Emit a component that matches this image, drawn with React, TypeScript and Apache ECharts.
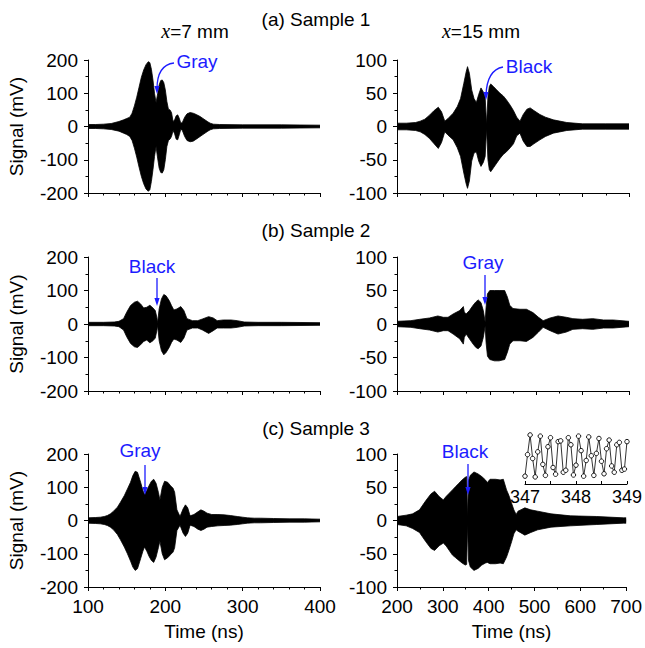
import React, { useEffect, useRef } from 'react';
import * as echarts from 'echarts';

const FONT = '"Liberation Sans", Arial, Helvetica, sans-serif';
const BLUE = '#1c1cff';

// ---- Sample 1, x = 7 mm (envelope of the signal, mV) ----
const A7_T = [100, 110, 120, 130, 140, 146, 150, 154, 157, 160, 163, 166, 169, 172, 175, 178, 180, 182, 184, 186, 188, 190, 192, 194, 196, 198, 200, 202, 204, 206, 208, 210, 212, 214, 216, 218, 220, 222, 225, 228, 232, 236, 240, 245, 250, 255, 258, 262, 270, 300, 350, 400];
const A7_UP = [6, 6, 7, 9, 15, 20, 24, 28, 40, 62, 88, 118, 148, 170, 186, 195, 192, 172, 140, 100, 72, 98, 125, 138, 140, 132, 110, 75, 52, 50, 42, 15, 20, 32, 35, 25, 10, 12, 28, 38, 42, 40, 36, 30, 22, 14, 10, 7, 6, 5, 5, 4];
const A7_LO = [-6, -6, -7, -9, -14, -20, -24, -30, -42, -65, -92, -122, -150, -172, -188, -195, -190, -165, -130, -90, -60, -95, -125, -138, -140, -130, -100, -60, -42, -38, -30, -12, -22, -38, -40, -25, -8, -12, -30, -42, -46, -44, -38, -30, -22, -14, -10, -7, -6, -5, -5, -4];

// ---- Sample 1, x = 15 mm ----
const A15_T = [200, 220, 240, 250, 260, 270, 280, 289, 296, 303, 310, 321, 330, 337, 344, 349, 352, 356, 361, 366, 371, 376, 381, 386, 390, 393, 396, 399, 402, 408, 415, 422, 429, 436, 444, 451, 458, 465, 472, 480, 487, 495, 508, 520, 537, 566, 600, 650, 700];
const A15_UP = [5, 5, 6, 8, 11, 17, 24, 29, 22, 8, 12, 20, 30, 42, 65, 82, 90, 80, 55, 42, 36, 48, 58, 52, 44, 3, 45, 60, 64, 60, 55, 50, 46, 40, 32, 24, 14, 8, 18, 26, 28, 24, 18, 14, 10, 6, 4, 4, 4];
const A15_LO = [-5, -5, -6, -8, -12, -18, -26, -33, -24, -8, -13, -20, -32, -45, -70, -86, -93, -82, -52, -40, -38, -52, -60, -54, -45, -3, -50, -65, -68, -62, -55, -48, -42, -38, -32, -26, -14, -10, -22, -30, -30, -26, -20, -15, -10, -6, -4, -4, -4];

// ---- Sample 2, x = 7 mm ----
const B7_T = [100, 120, 134, 140, 146, 150, 155, 160, 164, 168, 172, 176, 180, 184, 187, 189, 190, 192, 195, 198, 201, 205, 208, 211, 215, 220, 224, 228, 235, 242, 248, 256, 262, 267, 275, 285, 293, 302, 320, 350, 400];
const B7_UP = [5, 5, 6, 8, 16, 35, 55, 65, 68, 60, 48, 50, 56, 48, 40, 20, 4, 45, 75, 88, 84, 70, 55, 42, 45, 52, 40, 16, 10, 10, 15, 22, 18, 10, 12, 12, 10, 6, 5, 5, 4];
const B7_LO = [-5, -5, -6, -8, -18, -38, -58, -68, -70, -62, -52, -48, -56, -50, -42, -20, -4, -50, -80, -92, -85, -70, -55, -45, -48, -55, -42, -18, -12, -12, -18, -28, -20, -12, -12, -12, -10, -6, -5, -5, -4];

// ---- Sample 2, x = 15 mm ----
const B15_T = [200, 230, 249, 270, 288, 300, 310, 321, 335, 343, 345, 349, 356, 364, 370, 375, 381, 386, 390, 392, 395, 400, 410, 420, 432, 438, 443, 450, 465, 479, 493, 505, 515, 530, 547, 565, 579, 600, 622, 645, 666, 700];
const B15_UP = [4, 5, 7, 9, 12, 10, 10, 15, 20, 26, 18, 15, 20, 28, 33, 36, 32, 20, 3, 25, 45, 50, 50, 50, 50, 40, 28, 23, 22, 22, 17, 10, 5, 9, 12, 10, 8, 7, 8, 6, 6, 4];
const B15_LO = [-4, -5, -7, -9, -12, -10, -10, -15, -22, -30, -20, -15, -22, -30, -35, -37, -33, -20, -3, -28, -48, -53, -55, -55, -53, -42, -30, -25, -25, -26, -20, -12, -5, -10, -15, -12, -8, -7, -8, -6, -6, -4];

// ---- Sample 3, x = 7 mm ----
const C7_T = [100, 110, 116, 121, 125, 129, 133, 138, 142, 147, 151, 155, 158, 161, 164, 168, 171, 173, 176, 179, 182, 185, 188, 191, 193, 196, 199, 203, 207, 210, 212, 215, 219, 223, 226, 229, 232, 237, 242, 246, 250, 254, 260, 268, 276, 284, 293, 300, 306, 315, 323, 340, 360, 380, 400];
const C7_UP = [8, 9, 10, 12, 15, 20, 28, 40, 55, 75, 95, 115, 135, 148, 145, 115, 90, 78, 90, 105, 118, 124, 112, 85, 62, 100, 118, 115, 104, 97, 85, 32, 12, 35, 47, 38, 14, 18, 26, 32, 28, 22, 18, 18, 17, 15, 12, 10, 8, 7, 7, 6, 5, 5, 4];
const C7_LO = [-8, -9, -10, -12, -15, -20, -28, -42, -58, -80, -100, -122, -140, -150, -145, -115, -92, -80, -92, -108, -120, -126, -110, -82, -62, -100, -118, -112, -102, -95, -82, -30, -14, -38, -48, -38, -14, -18, -26, -30, -26, -20, -18, -16, -15, -14, -12, -10, -8, -7, -7, -6, -5, -5, -4];

// ---- Sample 3, x = 15 mm ----
const C15_T = [200, 220, 234, 249, 263, 274, 282, 292, 301, 307, 314, 321, 328, 335, 342, 349, 352, 354, 356, 360, 368, 377, 385, 393, 397, 403, 415, 425, 432, 439, 444, 450, 455, 460, 464, 479, 492, 507, 536, 579, 636, 694, 700];
const C15_UP = [6, 8, 10, 16, 30, 40, 44, 36, 31, 36, 41, 46, 51, 56, 61, 65, 66, 4, 60, 68, 73, 70, 66, 61, 57, 62, 62, 61, 62, 46, 38, 26, 16, 9, 14, 19, 16, 14, 10, 7, 6, 4, 4];
const C15_LO = [-6, -8, -12, -18, -32, -42, -45, -38, -34, -38, -45, -52, -56, -60, -64, -67, -66, -4, -60, -70, -75, -72, -67, -64, -63, -65, -65, -64, -65, -55, -45, -32, -20, -14, -16, -22, -18, -14, -10, -8, -6, -4, -4];

// ---- Inset: sampled waveform 347-349 ns ----
const INSET_T = [347.0, 347.05, 347.1, 347.15, 347.2, 347.25, 347.3, 347.35, 347.4, 347.45, 347.5, 347.55, 347.6, 347.65, 347.7, 347.75, 347.8, 347.85, 347.9, 347.95, 348.0, 348.05, 348.1, 348.15, 348.2, 348.25, 348.3, 348.35, 348.4, 348.45, 348.5, 348.55, 348.6, 348.65, 348.7, 348.75, 348.8, 348.85, 348.9, 348.95, 349.0];
const INSET_V = [-50, 5, 55, -5, -52, 12, 52, -20, -48, 25, 48, -28, -45, 38, 40, -40, -35, 48, 30, -47, -22, 52, 15, -50, -10, 50, 2, -48, 8, 46, -12, -44, 20, 42, -24, -40, 30, 36, -35, -32, 38];

// ---- Axis ticks / labels ----
const LEFT_X = { min: 100, max: 400, interval: 100, minor: 5 };
const RIGHT_X = { min: 200, max: 700, interval: 100, minor: 2 };
const LEFT_Y = { min: -200, max: 200, interval: 100, minor: 2 };
const RIGHT_Y = { min: -100, max: 100, interval: 50, minor: 2 };
const ROW_TITLES = ['(a) Sample 1', '(b) Sample 2', '(c) Sample 3'];
const COL_TITLES = ['=7 mm', '=15 mm'];
const X_NAME = 'Time (ns)';
const Y_NAME = 'Signal (mV)';

const PANELS = [
  { t: A7_T, up: A7_UP, lo: A7_LO, col: 0, row: 0 },
  { t: A15_T, up: A15_UP, lo: A15_LO, col: 1, row: 0 },
  { t: B7_T, up: B7_UP, lo: B7_LO, col: 0, row: 1 },
  { t: B15_T, up: B15_UP, lo: B15_LO, col: 1, row: 1 },
  { t: C7_T, up: C7_UP, lo: C7_LO, col: 0, row: 2 },
  { t: C15_T, up: C15_UP, lo: C15_LO, col: 1, row: 2 },
];

const zip = (t: number[], v: number[]) => t.map((x, i) => [x, v[i]]);

export default function App() {
  const ref = useRef<HTMLDivElement>(null);
  useEffect(() => {
    document.body.style.margin = '0';
    const chart = echarts.init(ref.current!, null, { renderer: 'svg' });

    const colLeft = [88, 397];
    const rowTop = [60, 257, 454];
    const rowH = [133, 134, 133];
    const grids: any[] = PANELS.map((p) => ({
      left: colLeft[p.col],
      top: rowTop[p.row],
      width: 232,
      height: rowH[p.row],
    }));
    grids.push({ left: 525, top: 433, width: 102, height: 51 });

    const lineCol = { color: '#000', width: 1 };
    const textBase = { color: '#000', fontFamily: FONT, fontSize: 19 };

    const xAxes: any[] = PANELS.map((p, i) => {
      const s = p.col === 0 ? LEFT_X : RIGHT_X;
      return {
        type: 'value',
        gridIndex: i,
        position: 'bottom',
        min: s.min,
        max: s.max,
        interval: s.interval,
        axisLine: { show: true, onZero: false, lineStyle: lineCol },
        axisTick: { show: true, inside: false, length: 4, lineStyle: lineCol },
        minorTick: { show: true, splitNumber: s.minor, length: 2.5, lineStyle: lineCol },
        splitLine: { show: false },
        minorSplitLine: { show: false },
        axisLabel: { show: p.row === 2, margin: 10, ...textBase },
        name: p.row === 2 ? X_NAME : '',
        nameLocation: 'middle',
        nameGap: 35,
        nameTextStyle: { ...textBase },
      };
    });
    xAxes.push({
      type: 'value',
      gridIndex: 6,
      position: 'bottom',
      min: 347,
      max: 349,
      interval: 1,
      axisLine: { show: true, onZero: false, lineStyle: lineCol },
      axisTick: { show: true, inside: true, length: 3, lineStyle: lineCol },
      minorTick: { show: true, splitNumber: 2, length: 3, lineStyle: lineCol },
      splitLine: { show: false },
      axisLabel: { show: true, margin: 4, ...textBase, fontSize: 18 },
    });

    const yAxes: any[] = PANELS.map((p, i) => {
      const s = p.col === 0 ? LEFT_Y : RIGHT_Y;
      return {
        type: 'value',
        gridIndex: i,
        position: 'left',
        min: s.min,
        max: s.max,
        interval: s.interval,
        axisLine: { show: true, onZero: false, lineStyle: lineCol },
        axisTick: { show: true, inside: false, length: 4, lineStyle: lineCol },
        minorTick: { show: true, splitNumber: s.minor, length: 2.5, lineStyle: lineCol },
        splitLine: { show: false },
        minorSplitLine: { show: false },
        axisLabel: { show: true, margin: 10, ...textBase },
        name: p.col === 0 ? Y_NAME : '',
        nameLocation: 'middle',
        nameRotate: 90,
        nameGap: 62,
        nameTextStyle: { ...textBase },
      };
    });
    yAxes.push({ type: 'value', gridIndex: 6, show: false, min: -70, max: 60 });

    const series: any[] = [];
    PANELS.forEach((p, i) => {
      // upper envelope, filled down slightly past zero so it overlaps the lower fill
      series.push({
        type: 'line',
        xAxisIndex: i,
        yAxisIndex: i,
        data: zip(p.t, p.up),
        showSymbol: false,
        symbol: 'none',
        lineStyle: { color: '#000', width: 0.8 },
        areaStyle: { color: '#000', opacity: 1, origin: -2 },
        silent: true,
      });
      // lower envelope, filled up slightly past zero
      series.push({
        type: 'line',
        xAxisIndex: i,
        yAxisIndex: i,
        data: zip(p.t, p.lo),
        showSymbol: false,
        symbol: 'none',
        lineStyle: { color: '#000', width: 0.8 },
        areaStyle: { color: '#000', opacity: 1, origin: 2 },
        silent: true,
      });
    });
    series.push({
      type: 'line',
      xAxisIndex: 6,
      yAxisIndex: 6,
      data: zip(INSET_T, INSET_V),
      symbol: 'circle',
      symbolSize: 4.5,
      showSymbol: true,
      lineStyle: { color: '#000', width: 0.8 },
      itemStyle: { color: '#fff', borderColor: '#000', borderWidth: 0.9 },
      z: 10,
    });

    const txt = (text: string, x: number, y: number, extra: any = {}) => ({
      type: 'text',
      z: 100,
      style: {
        text,
        x,
        y,
        fill: '#000',
        fontFamily: FONT,
        fontSize: 19,
        align: 'center',
        verticalAlign: 'middle',
        ...extra,
      },
    });
    const blueTxt = (text: string, x: number, y: number) => txt(text, x, y, { fill: BLUE });
    const vArrow = (x: number, y1: number, y2: number) => [
      { type: 'line', z: 100, shape: { x1: x, y1, x2: x, y2: y2 - 5 }, style: { stroke: BLUE, lineWidth: 1.3 } },
      { type: 'polygon', z: 100, shape: { points: [[x, y2], [x - 2.6, y2 - 8], [x + 2.6, y2 - 8]] }, style: { fill: BLUE } },
    ];
    const cArrow = (x1: number, y1: number, cx: number, cy: number, x2: number, y2: number) => [
      { type: 'bezierCurve', z: 100, shape: { x1, y1, cpx1: cx, cpy1: cy, x2, y2: y2 - 5 }, style: { stroke: BLUE, lineWidth: 1.3, fill: 'none' } },
      { type: 'polygon', z: 100, shape: { points: [[x2, y2], [x2 - 2.6, y2 - 8], [x2 + 2.6, y2 - 8]] }, style: { fill: BLUE } },
    ];
    const rich = { i: { fontFamily: '"Liberation Serif", "DejaVu Serif", serif', fontStyle: 'italic', fontSize: 20, fill: '#000' } };

    const graphic: any[] = [
      txt(ROW_TITLES[0], 316, 19),
      txt(ROW_TITLES[1], 316, 230),
      txt(ROW_TITLES[2], 316, 428),
      txt('{i|x}' + COL_TITLES[0], 195, 31, { rich }),
      txt('{i|x}' + COL_TITLES[1], 481, 31, { rich }),
      blueTxt('Gray', 197, 61),
      ...cArrow(174, 63, 157, 65, 157, 94),
      blueTxt('Black', 529, 66),
      ...cArrow(503, 67, 487, 70, 486, 100),
      blueTxt('Black', 152, 266),
      ...vArrow(157, 278, 306),
      blueTxt('Gray', 483, 262),
      ...vArrow(485, 275, 305),
      blueTxt('Gray', 140, 450),
      ...vArrow(145, 465, 495),
      blueTxt('Black', 465, 451),
      ...vArrow(468, 464, 495),
    ];

    chart.setOption({
      animation: false,
      backgroundColor: '#fff',
      grid: grids,
      xAxis: xAxes,
      yAxis: yAxes,
      series,
      graphic,
    });
    return () => chart.dispose();
  }, []);
  return <div ref={ref} style={{ position: 'absolute', left: 0, top: 0, width: 645, height: 648 }} />;
}
